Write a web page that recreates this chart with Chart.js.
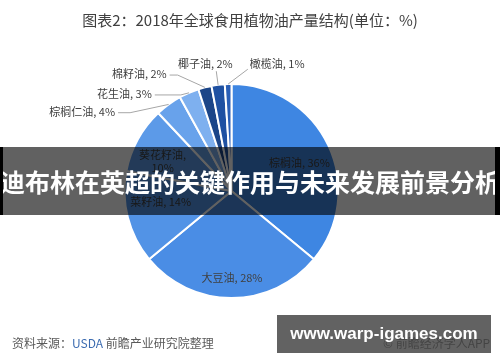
<!DOCTYPE html>
<html>
<head>
<meta charset="utf-8">
<script src="https://cdn.jsdelivr.net/npm/chart.js@4.4.1/dist/chart.umd.min.js"></script>
<style>
  body { margin: 0; background: #fff; }
  #wrap { position: relative; width: 500px; height: 362px; overflow: hidden; font-family: "Noto Sans CJK SC", "Noto Sans", sans-serif; }
  #title { position: absolute; left: 0; width: 500px; top: 9px; text-align: center; font-size: 15px; color: #404040; }
  #source { position: absolute; left: 12px; top: 334px; font-size: 12px; color: #595959; }
  #source span { color: #3b6bb0; }
  #copy { position: absolute; left: 383px; top: 334px; font-size: 12px; color: #595959; white-space: nowrap; }
  #urlbox { position: absolute; left: 277px; top: 315px; width: 214px; height: 38px; background: rgba(64,64,64,0.82);
            color: #fff; font-family: "Liberation Sans", Arial, sans-serif; font-weight: bold; font-size: 17px; line-height: 38px; text-align: center; }
  #banner { position: absolute; left: 0; top: 147px; width: 500px; height: 68px; background: rgba(0,0,0,0.62);
            color: #fff; font-weight: bold; font-size: 25px; line-height: 68px; text-align: center; white-space: nowrap; }
  #banner .edge { position: absolute; top: 0; width: 3px; height: 68px; background: #000; }
</style>
</head>
<body>
<div id="wrap">
  <canvas id="canvas" width="500" height="362"></canvas>
  <div id="title">图表2：2018年全球食用植物油产量结构(单位：%)</div>
  <div id="source">资料来源：<span>USDA</span> 前瞻产业研究院整理</div>
  <div id="copy">© 前瞻经济学人APP</div>
  <div id="urlbox">www.warp-igames.com</div>
  <div id="banner"><div class="edge" style="left:0"></div>迪布林在英超的关键作用与未来发展前景分析<div class="edge" style="right:0;width:5px"></div></div>
</div>
<script>
// categories and values (%)
var oils = ['棕榈油', '大豆油', '菜籽油', '葵花籽油', '棕榈仁油', '花生油', '棉籽油', '椰子油', '橄榄油'];
var shares = [36, 28, 14, 10, 4, 3, 2, 2, 1];
var colors = ['#3e86e2', '#4a8de5', '#5293e6', '#5c9ae8', '#68a2eb', '#7eb0ef', '#1b4588', '#1f51a2', '#2a5fb6'];

// where each label sits, in units of the radius from the centre
// inside: label on the slice, else text with a leader line
var labelPos = [
  { dx: 0.634, dy: -0.259, inside: true },
  { dx: 0.005, dy: 0.815, inside: true },
  { dx: -0.662, dy: 0.102, inside: true },
  { dx: -0.644, dy: -0.273, inside: true, twoLines: true },
  { dx: -1.088, dy: -0.741, align: 'right', elbow: 12 },
  { dx: -0.745, dy: -0.907, align: 'right', elbow: 26 },
  { dx: -0.606, dy: -1.093, align: 'right', elbow: 8 },
  { dx: -0.245, dy: -1.185, align: 'center', from: [11, 7] },
  { dx: 0.171, dy: -1.185, align: 'left', from: [-2, 5] }
];

var pieLabels = {
  id: 'pieLabels',
  afterDatasetsDraw: function(chart) {
    var ctx = chart.ctx;
    var arcs = chart.getDatasetMeta(0).data;
    ctx.save();
    ctx.font = '11px "Noto Sans CJK SC", "Noto Sans", sans-serif';
    ctx.fillStyle = '#404040';
    ctx.textBaseline = 'middle';
    arcs.forEach(function(arc, i) {
      var p = labelPos[i];
      var r = arc.outerRadius;
      var lx = arc.x + p.dx * r, ly = arc.y + p.dy * r;
      var txt = oils[i] + ', ' + shares[i] + '%';
      if (p.inside) {
        ctx.textAlign = 'center';
        if (p.twoLines) {
          ctx.fillText(oils[i] + ',', lx, ly - 6.5);
          ctx.fillText(shares[i] + '%', lx, ly + 6.5);
        } else {
          ctx.fillText(txt, lx, ly);
        }
        return;
      }
      var mid = (arc.startAngle + arc.endAngle) / 2;
      var ex = arc.x + Math.cos(mid) * r, ey = arc.y + Math.sin(mid) * r;
      ctx.textAlign = p.align;
      ctx.fillText(txt, lx, ly);
      ctx.strokeStyle = '#a6a6a6';
      ctx.lineWidth = 1;
      ctx.beginPath();
      if (p.elbow) {
        ctx.moveTo(lx + 3, ly + 1);
        ctx.lineTo(lx + 3 + p.elbow, ly + 1);
      } else {
        ctx.moveTo(lx + p.from[0], ly + p.from[1]);
      }
      ctx.lineTo(ex, ey);
      ctx.stroke();
    });
    ctx.restore();
  }
};

const ctx = document.getElementById('canvas').getContext('2d');
const myChart = new Chart(ctx, {
  type: 'pie',
  data: {
    labels: oils,
    datasets: [{
      data: shares,
      backgroundColor: colors,
      borderColor: '#ffffff',
      borderWidth: 2
    }]
  },
  options: {
    responsive: false,
    animation: false,
    devicePixelRatio: 1,
    layout: { padding: { left: 123, right: 160, top: 83, bottom: 63 } },
    plugins: {
      legend: { display: false },
      tooltip: { enabled: false }
    }
  },
  plugins: [pieLabels]
});
</script>
</body>
</html>
